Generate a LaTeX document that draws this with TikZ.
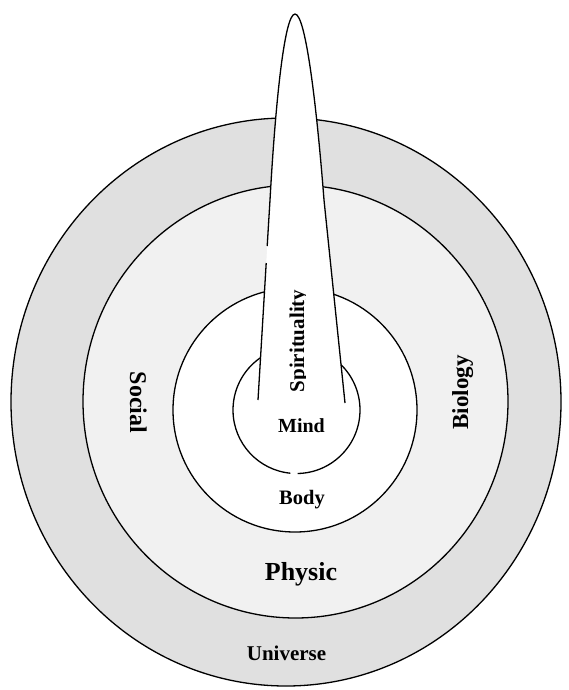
\documentclass[tikz,border=0pt]{standalone}
\usepackage{fontspec}
\setmainfont{Liberation Serif}
\begin{document}
\begin{tikzpicture}[x=1pt,y=-1pt,
  ring/.style={draw=black,line width=1.3pt},
  lbl/.style={font=\bfseries,text=black,inner sep=0pt}]
\useasboundingbox (0,0) rectangle (568,690);
% rings
\path[ring,fill=gray!24] (286,402) ellipse[x radius=275pt,y radius=284pt];
\path[ring,fill=gray!11] (295.5,401.5) ellipse[x radius=212.5pt,y radius=216.5pt];
\path[ring,fill=white] (295,410) circle[radius=122pt];
\fill[white] (296.5,410) circle[radius=63.5pt];
\draw[ring] ([shift={(296.5,410)}]-89:63.5pt) arc[start angle=-89,end angle=264.5,radius=63.5pt];
% spire
\coordinate (sb1) at (258,400);
\coordinate (sg1) at (266.2,263);
\coordinate (sg2) at (267.2,246);
\coordinate (sl) at (270,200);
\coordinate (tip) at (295,14);
\coordinate (sr) at (324,200);
\coordinate (sb2) at (345,403);
\fill[white] (sb1) -- (sl) .. controls (275,110) and (284,14) .. (tip)
  .. controls (306,14) and (317,110) .. (sr) -- (sb2) -- cycle;
\draw[ring] (sb1) -- (sg1);
\draw[ring] (sg2) -- (sl) .. controls (275,110) and (284,14) .. (tip)
  .. controls (306,14) and (317,110) .. (sr) -- (sb2);
% labels
\begin{scope}
\clip (250,280) rectangle (305.5,400);
\node[lbl,font=\fontsize{21}{21}\selectfont\bfseries,rotate=90,anchor=base] (spi) at (304,341) {Spirituality};
\end{scope}
\node[lbl,font=\fontsize{20}{20}\selectfont\bfseries,anchor=base] (mind) at (301.5,432) {Mind};
\node[lbl,font=\fontsize{20.5}{20.5}\selectfont\bfseries,anchor=base] (body) at (302,504) {Body};
\node[lbl,font=\fontsize{26}{26}\selectfont\bfseries,anchor=base] (phys) at (301,580) {Physic};
\node[lbl,font=\fontsize{21}{21}\selectfont\bfseries,anchor=base] (univ) at (286.5,660) {Universe};
\node[lbl,font=\fontsize{24}{24}\selectfont\bfseries,rotate=-90,anchor=base] (soc) at (130,402.5) {Social};
\node[lbl,font=\fontsize{23}{23}\selectfont\bfseries,rotate=90,anchor=base] (bio) at (468,392.5) {Biology};
\end{tikzpicture}
\end{document}
